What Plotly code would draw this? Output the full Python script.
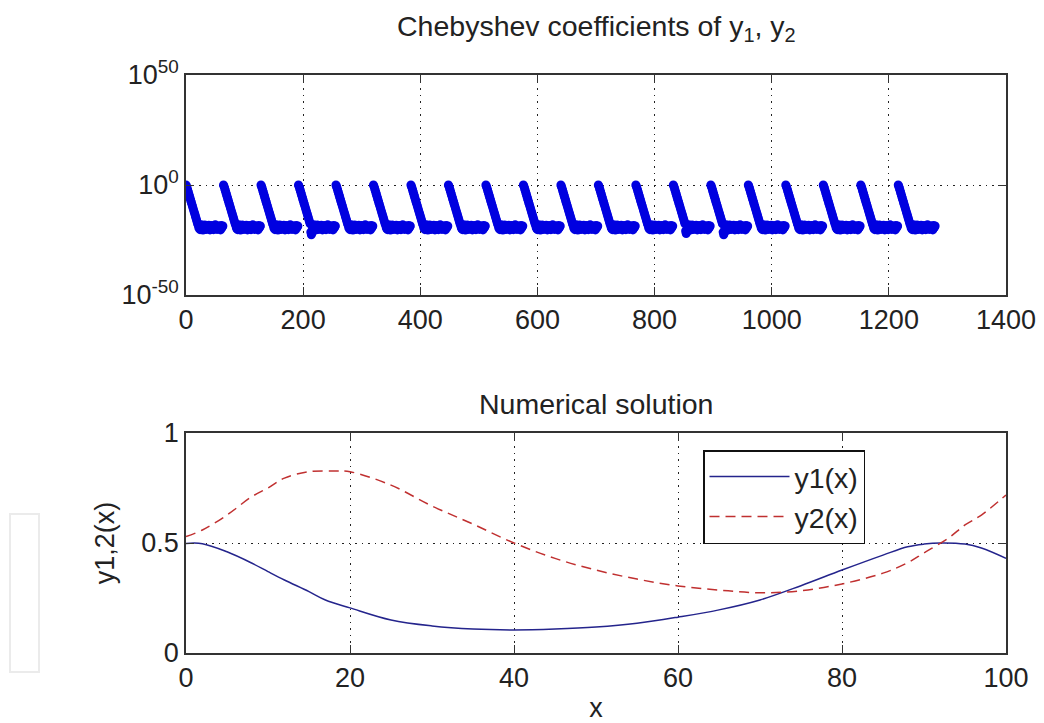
import plotly.graph_objects as go

# ---------------- data: Chebyshev coefficients (top) ----------------
# 20 pieces of 64 coefficients each; log10 magnitudes
piece_starts = [0, 64, 128, 192, 256, 320, 384, 448, 512, 576,
                640, 704, 768, 832, 896, 960, 1024, 1088, 1152, 1216]
decay_log10 = [0.0, -0.6, -1.5, -2.4, -3.3, -4.2, -5.1, -6.0, -6.9, -7.8,
               -8.7, -9.6, -10.5, -11.4, -12.3, -13.2, -14.1, -15.0, -15.9,
               -16.8, -17.7]
floor_log10 = [-18.4, -19.6, -18.9, -20.3, -19.2, -18.1, -19.7, -19.0, -20.5,
               -18.6, -19.5, -18.2, -19.9, -19.1, -20.2, -18.5, -19.3, -19.8,
               -18.3, -19.6, -20.4, -18.9, -19.4, -18.4, -19.9, -19.2, -20.3,
               -18.6, -19.5, -18.1, -19.7, -19.0, -20.2, -18.5, -19.4, -19.8,
               -18.9, -19.3, -20.4, -18.4, -19.5, -19.1, -18.6]
corner_dip = [0, 0, 0, -3.0, 0, 0, 0, 0, 0, 0,
              0, 0, 0, -2.5, -3.0, 0, 0, 0, 0, 0]

# ---------------- data: numerical solution (bottom) ----------------
x1 = [0, 2, 5, 8, 10, 12, 15, 17, 20, 25, 30, 35, 40, 45, 50, 55, 60, 65,
      70, 75, 80, 85, 88, 90, 92, 95, 97, 100]
y1 = [0.498, 0.497, 0.46, 0.409, 0.37, 0.332, 0.279, 0.241, 0.205, 0.15,
      0.123, 0.109, 0.105, 0.109, 0.118, 0.135, 0.163, 0.196, 0.241, 0.306,
      0.377, 0.445, 0.483, 0.495, 0.5, 0.495, 0.477, 0.43]
x2 = [0, 2, 5, 8, 10, 12, 15, 18, 20, 25, 30, 35, 40, 45, 50, 55, 60, 65,
      70, 75, 80, 85, 88, 90, 93, 95, 97, 100]
y2 = [0.529, 0.559, 0.627, 0.71, 0.75, 0.795, 0.824, 0.827, 0.824, 0.763,
      0.668, 0.586, 0.50, 0.43, 0.377, 0.336, 0.305, 0.286, 0.274, 0.283,
      0.314, 0.363, 0.41, 0.455, 0.523, 0.582, 0.627, 0.718]

# build coefficient series
profile = decay_log10 + floor_log10
cx, cy = [], []
for k, s in enumerate(piece_starts):
    for i, v in enumerate(profile):
        d = corner_dip[k] if 21 <= i <= 23 else 0
        cx.append(s + i)
        cy.append(10 ** (v + d))

FONT = "Liberation Sans, Arial, sans-serif"
TXT = "#222222"
FS = 27
FT = 28.5

fig = go.Figure()
fig.add_trace(go.Scatter(x=cx, y=cy, mode="markers",
                         marker=dict(color="#0000e0", size=9, line=dict(width=0)),
                         showlegend=False, xaxis="x", yaxis="y"))
fig.add_trace(go.Scatter(x=x1, y=y1, mode="lines", name="y1(x)",
                         line=dict(color="#24248c", width=1.5, shape="spline"),
                         xaxis="x2", yaxis="y2"))
fig.add_trace(go.Scatter(x=x2, y=y2, mode="lines", name="y2(x)",
                         line=dict(color="#c03030", width=1.5, dash="10px,6px",
                                   shape="spline"),
                         xaxis="x2", yaxis="y2"))

H = 578.0  # plot area height in px (723 - 75 - 70)
top_dom = [1 - 220 / H, 1]
bot_dom = [0, 220 / H]

axis_common = dict(showline=True, linecolor="#333333", linewidth=1.5,
                   mirror="ticks", ticks="inside", ticklen=8, tickwidth=1,
                   tickcolor="#333333", showgrid=True, gridcolor="#222222",
                   gridwidth=1, griddash="1.5px,5px", zeroline=False,
                   automargin=False,
                   tickfont=dict(family=FONT, size=FS, color=TXT))

fig.update_layout(
    width=1044, height=723,
    margin=dict(l=186, r=38, t=75, b=70, autoexpand=False),
    paper_bgcolor="white", plot_bgcolor="white",
    font=dict(family=FONT, size=FS, color=TXT),
    xaxis=dict(domain=[0, 1], anchor="y", range=[0, 1400],
               tickvals=[0, 200, 400, 600, 800, 1000, 1200, 1400], **axis_common),
    yaxis=dict(domain=top_dom, anchor="x", type="log", range=[-50, 50],
               tickvals=[1e-50, 1, 1e50],
               ticktext=["10<sup>-50</sup>", "10<sup>0</sup>", "10<sup>50</sup>"],
               **axis_common),
    xaxis2=dict(domain=[0, 1], anchor="y2", range=[0, 100],
                tickvals=[0, 20, 40, 60, 80, 100],
                title=dict(text="x", standoff=10,
                           font=dict(family=FONT, size=FS, color=TXT)),
                **axis_common),
    yaxis2=dict(domain=bot_dom, anchor="x2", range=[0, 1],
                tickvals=[0, 0.5, 1], ticktext=["0", "0.5", "1"],
                title=dict(text="y1,2(x)", standoff=19,
                           font=dict(family=FONT, size=FS, color=TXT)),
                **axis_common),
    legend=dict(x=(703 - 186) / 820, y=(653 - 450) / H, xanchor="left",
                yanchor="top", bgcolor="white", bordercolor="#111111",
                borderwidth=1.5, itemwidth=80, tracegroupgap=0,
                font=dict(family=FONT, size=FT, color=TXT)),
    annotations=[
        dict(text="Chebyshev coefficients of y<sub>1</sub>, y<sub>2</sub>",
             x=0.5, y=(653 - 28) / H, xref="paper", yref="paper",
             showarrow=False, xanchor="center", yanchor="middle",
             font=dict(family=FONT, size=FT, color=TXT)),
        dict(text="Numerical solution",
             x=0.5, y=(653 - 404) / H, xref="paper", yref="paper",
             showarrow=False, xanchor="center", yanchor="middle",
             font=dict(family=FONT, size=FT, color=TXT)),
    ],
    shapes=[dict(type="rect", xref="paper", yref="paper",
                 x0=(10 - 186) / 820, x1=(39 - 186) / 820,
                 y0=(653 - 672) / H, y1=(653 - 514) / H,
                 line=dict(color="#ebebeb", width=2), fillcolor="white")],
)

fig.write_html("out.html")
